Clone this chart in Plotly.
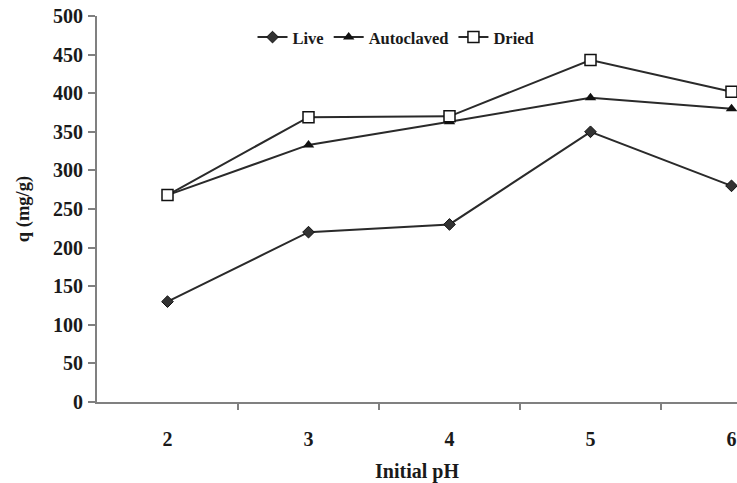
import plotly.graph_objects as go

# Initial pH values and uptake capacity q (mg/g) for each biomass form
ph = [2, 3, 4, 5, 6]
live = [130, 220, 230, 350, 280]
autoclaved = [268, 333, 363, 394, 380]
dried = [268, 369, 370, 443, 402]

y_ticks = list(range(0, 501, 50))

FONT = "Liberation Serif"
LINE = "#2a2a2a"
TEXT = "#1a1a1a"

fig = go.Figure()

fig.add_trace(go.Scatter(
    x=ph, y=live, name="Live", mode="lines+markers",
    line=dict(color=LINE, width=2),
    marker=dict(symbol="diamond", size=9, color="#333333",
                line=dict(color="#111111", width=1)),
    cliponaxis=False,
))
fig.add_trace(go.Scatter(
    x=ph, y=autoclaved, name="Autoclaved", mode="lines+markers",
    line=dict(color=LINE, width=2),
    marker=dict(symbol="triangle-up", size=10, color="#111111"),
    cliponaxis=False,
))
fig.add_trace(go.Scatter(
    x=ph, y=dried, name="Dried", mode="lines+markers",
    line=dict(color=LINE, width=2),
    marker=dict(symbol="square", size=11, color="white",
                line=dict(color="#111111", width=1.5)),
    cliponaxis=False,
))

fig.update_layout(
    width=737, height=483,
    margin=dict(l=97, r=0, t=16, b=81),
    paper_bgcolor="white", plot_bgcolor="white",
    font=dict(family=FONT, color=TEXT),
    showlegend=True,
    legend=dict(
        orientation="h", x=0.243, y=0.99, xanchor="left", yanchor="top",
        font=dict(family=FONT, size=16.5, color=TEXT, weight="bold"),
        bgcolor="rgba(0,0,0,0)", itemwidth=30, tracegroupgap=0,
    ),
    xaxis=dict(
        range=[1.5, 1.5 + 640 / 141],
        tickvals=ph, ticktext=[str(v) for v in ph],
        ticks="", showgrid=False, zeroline=False,
        showline=True, linecolor="#808080", linewidth=2,
        ticklabelstandoff=18,
        tickfont=dict(family=FONT, size=20, color=TEXT, weight="bold"),
        minor=dict(tickvals=[2.5, 3.5, 4.5, 5.5], ticks="outside",
                   ticklen=6, tickcolor="#808080", tickwidth=1.5, showgrid=False),
        title=dict(text="Initial pH", standoff=16,
                   font=dict(family=FONT, size=20, color=TEXT, weight="bold")),
    ),
    yaxis=dict(
        range=[0, 500], tickvals=y_ticks,
        ticks="outside", ticklen=7, tickcolor="#808080", tickwidth=1.5,
        showgrid=False, zeroline=False,
        showline=True, linecolor="#808080", linewidth=2,
        ticklabelstandoff=1,
        tickfont=dict(family=FONT, size=20, color=TEXT, weight="bold"),
        title=dict(text="q (mg/g)", standoff=19,
                   font=dict(family=FONT, size=18.5, color=TEXT, weight="bold")),
    ),
)

fig.write_html("out.html")
